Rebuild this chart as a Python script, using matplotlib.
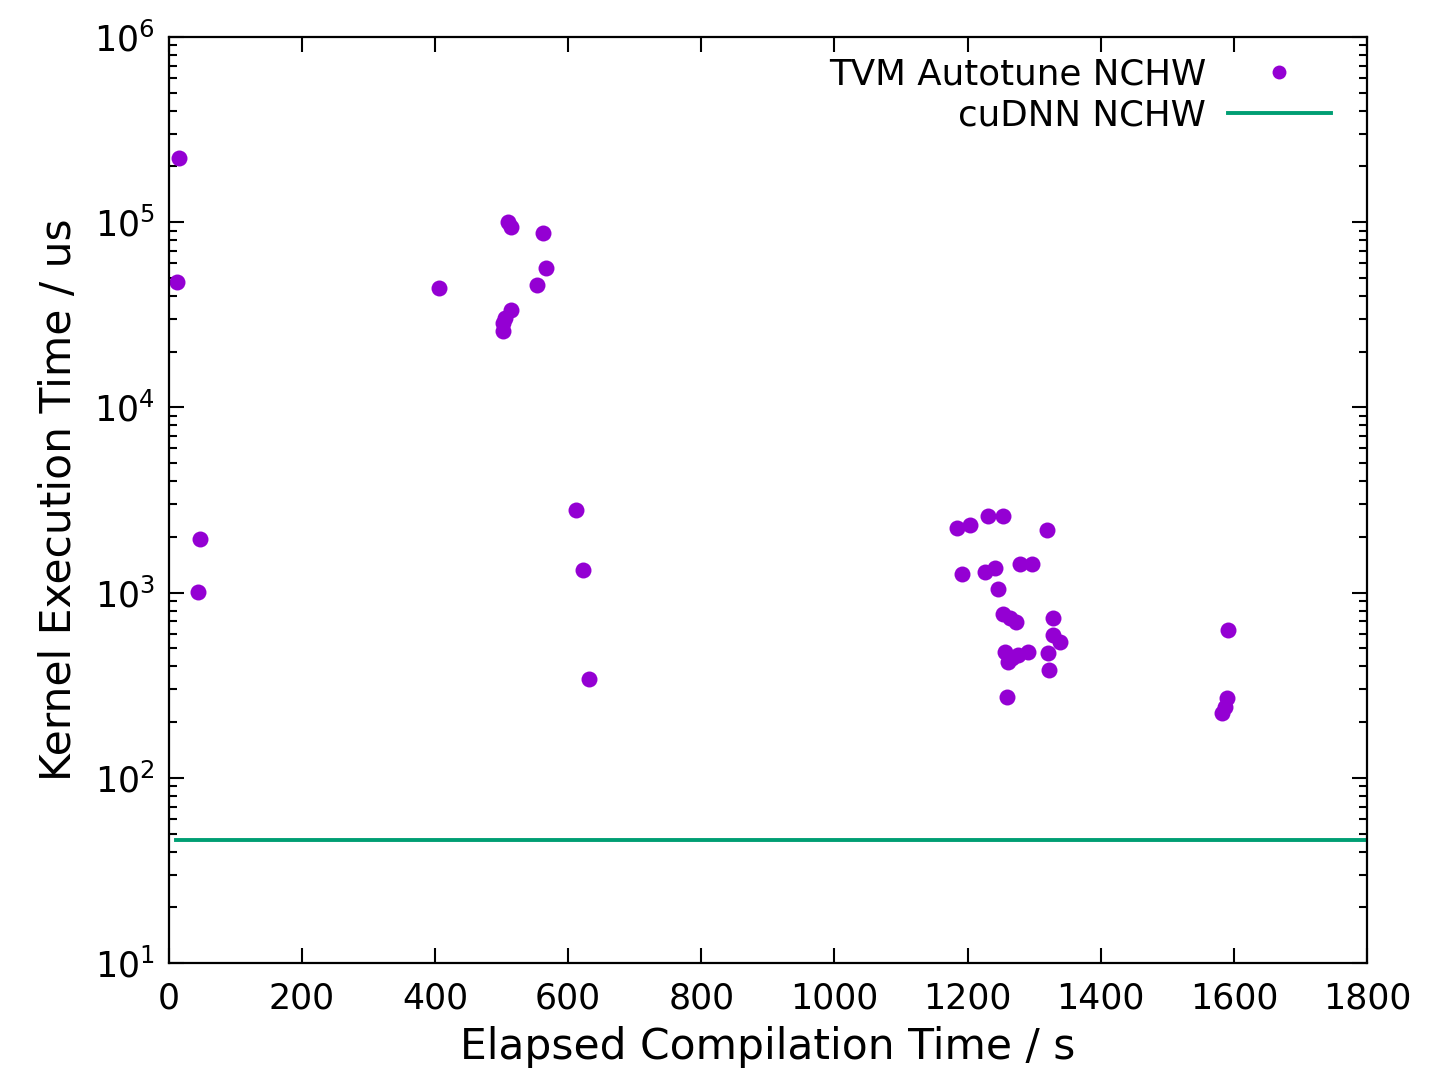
import matplotlib
matplotlib.use("Agg")
import matplotlib.pyplot as plt
from matplotlib.ticker import LogLocator, MultipleLocator, NullFormatter

# TVM autotune trials: elapsed compile time (s) vs kernel time (us)
tvm_time = [16, 13, 47, 44, 406, 509, 514, 562, 566, 553, 514, 505, 502, 502,
            611, 622, 632,
            1184, 1203, 1230, 1253, 1319, 1191, 1226, 1241, 1279, 1297, 1245,
            1253, 1264, 1273, 1328, 1328, 1339, 1320, 1322,
            1256, 1266, 1290, 1276, 1261, 1259,
            1591, 1590, 1587, 1582]
tvm_kernel = [2.22e5, 4.75e4, 1946, 1007, 4.42e4, 1.0e5, 9.4e4, 8.75e4, 5.66e4,
              4.58e4, 3.36e4, 3.04e4, 2.86e4, 2.59e4,
              2790, 1325, 341,
              2234, 2317, 2594, 2594, 2177, 1259, 1290, 1358, 1426, 1426, 1045,
              765, 729, 694, 729, 590, 541, 472, 382,
              478, 443, 478, 460, 422, 273,
              628, 270, 241, 224]

cudnn_time = [11, 1800]
cudnn_kernel = [46.1, 46.1]

plt.rcParams['font.family'] = ['DejaVu Sans']

fig = plt.figure(figsize=(14.3, 10.71), dpi=100)
ax = fig.add_axes([0.118, 0.1008, 0.838, 0.8647])

ax.plot(tvm_time, tvm_kernel, 'o', color='#9400D3', markersize=11.5,
        markeredgewidth=0, label='TVM Autotune NCHW')
ax.plot(cudnn_time, cudnn_kernel, '-', color='#009E73', linewidth=2.8,
        label='cuDNN NCHW')

ax.set_yscale('log')
ax.set_xlim(0, 1800)
ax.set_ylim(10, 1e6)
ax.xaxis.set_major_locator(MultipleLocator(200))
ax.yaxis.set_major_locator(LogLocator(base=10, numticks=10))
ax.yaxis.set_minor_locator(LogLocator(base=10, subs=range(2, 10), numticks=20))
ax.yaxis.set_minor_formatter(NullFormatter())

ax.tick_params(which='both', direction='in', top=True, right=True,
               labelsize=25, width=1.5)
ax.tick_params(axis='x', pad=13)
ax.tick_params(axis='y', pad=10)
ax.tick_params(which='major', length=11)
ax.tick_params(which='minor', length=6)
for s in ax.spines.values():
    s.set_linewidth(1.6)

ax.set_xlabel('Elapsed Compilation Time / s', fontsize=30.5, labelpad=8)
ax.set_ylabel('Kernel Execution Time / us', fontsize=30.5, labelpad=10)

leg = ax.legend(loc='upper right', bbox_to_anchor=(0.970, 0.978),
                frameon=False, fontsize=25.7, markerfirst=False,
                handlelength=2.9, handletextpad=0.6, labelspacing=0.21,
                borderaxespad=0, borderpad=0, numpoints=1)
leg.legend_handles[0].set_markersize(10)

fig.savefig('out.png', dpi=100)
